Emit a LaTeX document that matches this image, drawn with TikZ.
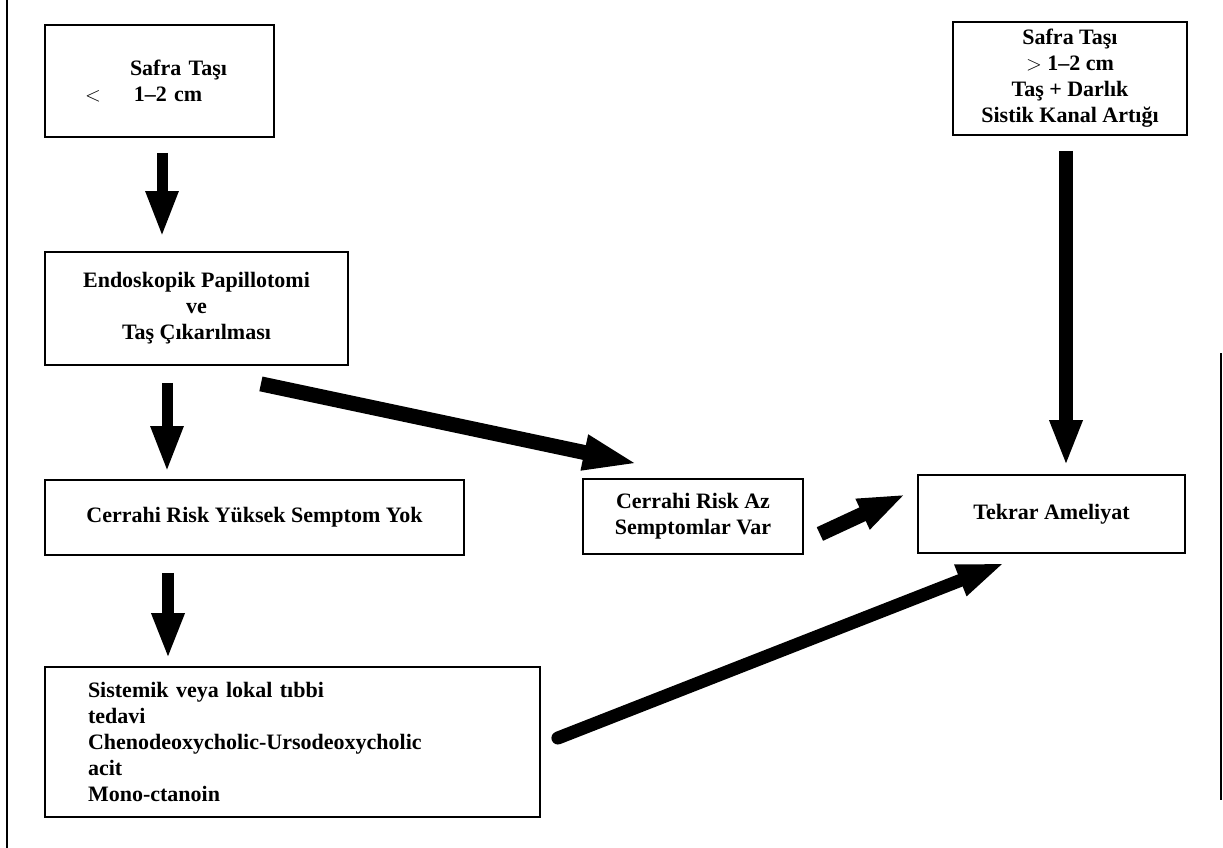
\documentclass[tikz,border=0pt]{standalone}
\usepackage{fontspec}
\setmainfont{Liberation Serif}
\usetikzlibrary{arrows.meta}
\tikzset{
  kutu/.style={draw, line width=1.8pt, inner sep=0pt, align=center,
    font=\bfseries\fontsize{22}{26}\selectfont},
  ok/.style={line width=#1, -{Triangle[width=30pt,length=46pt]}},
  okuzun/.style={line width=#1, -{Triangle[width=32pt,length=56pt]}},
  okkisa/.style={line width=#1, -{Triangle[width=30pt,length=48pt]}}
}
\begin{document}
\begin{tikzpicture}[x=1pt,y=-1pt]
  \useasboundingbox (0,0) rectangle (1223,848);
  % sayfa kenari
  \draw[line width=2.8pt] (7,0) -- (7,848);
  \draw[line width=2pt] (1221,353) -- (1221,800);

  \node[kutu, minimum width=229pt, minimum height=112pt, text width=149pt,
        inner xsep=40pt, align=left] (tas1) at (159.5,81)
        {\hspace*{45pt}Safra Taşı\\$<$\hspace{33pt}1--2 cm};
  \node[kutu, minimum width=234pt, minimum height=113pt] (tas2) at (1070,78.5)
        {Safra Taşı\\$>$ 1--2 cm\\Taş + Darlık\\Sistik Kanal Artığı};
  \node[kutu, minimum width=303pt, minimum height=113pt] (endo) at (196.5,308.5)
        {Endoskopik Papillotomi\\ve\\Taş Çıkarılması};
  \node[kutu, minimum width=419pt, minimum height=75pt] (yuksek) at (254.5,517.5)
        {Cerrahi Risk Yüksek Semptom Yok};
  \node[kutu, minimum width=220pt, minimum height=75pt] (az) at (693,516.5)
        {Cerrahi Risk Az\\Semptomlar Var};
  \node[kutu, minimum width=267pt, minimum height=78pt] (tekrar) at (1051.5,514)
        {Tekrar Ameliyat};
  \node[kutu, minimum width=495pt, minimum height=150pt, text width=409pt,
        inner xsep=43pt, align=left] (tedavi) at (292.5,742)
        {Sistemik veya lokal tıbbi\\tedavi\\Chenodeoxycholic-Ursodeoxycholic\\acit\\Mono-ctanoin};

  % dikey oklar
  \draw[ok=11pt] ([shift={(2.5,15)}]tas1.south) coordinate (a1) -- ([yshift=14pt]a1 |- endo.north);
  \draw[ok=11pt] ([shift={(-29.5,17)}]endo.south) coordinate (a2) -- ([yshift=7pt]a2 |- yuksek.north);
  \draw[ok=12pt] ([shift={(-86.5,17)}]yuksek.south) coordinate (a3) -- ([yshift=7pt]a3 |- tedavi.north);
  \draw[ok=14pt] ([shift={(-4,15)}]tas2.south) coordinate (a4) -- ([yshift=8pt]a4 |- tekrar.north);
  % capraz oklar
  \draw[okuzun=15pt] ([shift={(-88,18)}]endo.south east) -- ([shift={(57,-14)}]az.north west);
  \draw[okkisa=15pt] ([shift={(16,17.5)}]az.east) -- ([shift={(-11,-20)}]tekrar.west);
  \draw[okkisa=13pt, line cap=round] ([shift={(17,-4)}]tedavi.east) -- ([shift={(-46.5,9)}]tekrar.south);
\end{tikzpicture}
\end{document}
